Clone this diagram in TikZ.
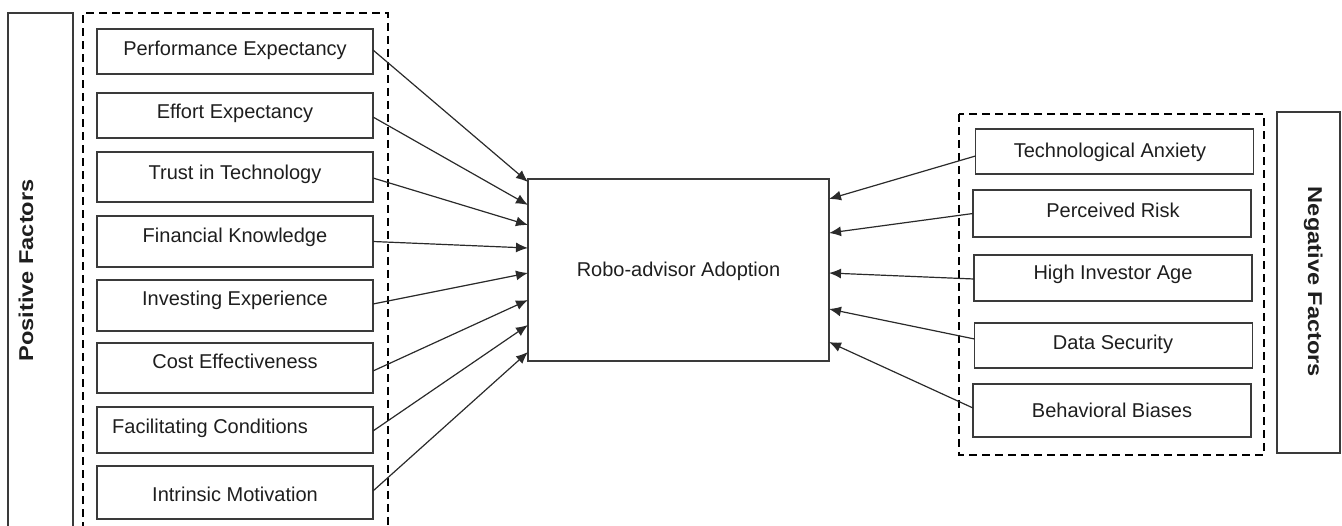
\documentclass[tikz,border=0pt]{standalone}
\usepackage{graphicx}
\usepackage{fontspec}
\setmainfont{Liberation Sans}
\usetikzlibrary{arrows.meta}
\definecolor{boxc}{HTML}{3A3A3A}
\definecolor{txtc}{HTML}{1E1E1E}
\definecolor{arrc}{HTML}{2A2A2A}
\tikzset{
  fbox/.style={draw=boxc, line width=1.3pt, inner sep=0pt, outer sep=0pt},
  lbox/.style={fbox, minimum width=276pt},
  rbox/.style={fbox, minimum width=278pt},
  txt/.style={anchor=base, inner sep=0pt, text=txtc, font=\fontsize{20}{24}\selectfont},
  side/.style={anchor=base, inner sep=0pt, text=txtc, font=\fontsize{20}{24}\selectfont\bfseries},
  grp/.style={draw=black, line width=2.2pt, dash pattern=on 8pt off 5pt},
  sidebox/.style={draw=boxc, line width=1.3pt},
  conn/.style={draw=arrc, line width=1.2pt, -{Latex[length=12pt,width=10pt]}}
}
\begin{document}
\begin{tikzpicture}[x=1pt,y=-1pt]
\useasboundingbox (0,0) rectangle (1342,526);
% side label boxes and group frames
\draw[sidebox] (8,530) -- (8,13) -- (73,13) -- (73,530);
\draw[grp] (83,530) -- (83,13) -- (388,13) -- (388,530);
\draw[sidebox] (1277,112) rectangle (1340,453);
\draw[grp] (959,114) rectangle (1264,455);
\node[side, rotate=90] (pos) at (33,270.5) {\scalebox{1.18}[1]{Positive Factors}};
\node[side, rotate=-90] (neg) at (1308,282) {\scalebox{1.18}[1]{Negative Factors}};
% positive factor boxes
\node[lbox, minimum height=45pt] (p1) at (235,51.5) {};
\node[lbox, minimum height=45pt] (p2) at (235,115.5) {};
\node[lbox, minimum height=50pt] (p3) at (235,177) {};
\node[lbox, minimum height=51pt] (p4) at (235,241.5) {};
\node[lbox, minimum height=51pt] (p5) at (235,305.5) {};
\node[lbox, minimum height=50pt] (p6) at (235,368) {};
\node[lbox, minimum height=46pt] (p7) at (235,430) {};
\node[lbox, minimum height=53pt] (p8) at (235,492.5) {};
\node[txt] (p1t) at (235,56) {Performance Expectancy};
\node[txt] (p2t) at (235,119) {Effort Expectancy};
\node[txt] (p3t) at (235,180) {Trust in Technology};
\node[txt] (p4t) at (235,243) {Financial Knowledge};
\node[txt] (p5t) at (235,306) {Investing Experience};
\node[txt] (p6t) at (235,369) {Cost Effectiveness};
\node[txt] (p7t) at (210,434) {Facilitating Conditions};
\node[txt] (p8t) at (235,501) {Intrinsic Motivation};
% central box
\node[fbox, minimum width=301pt, minimum height=182pt] (c) at (678.5,270) {};
\node[txt] (ct) at (678.5,277) {Robo-advisor Adoption};
% negative factor boxes
\node[rbox, minimum height=45pt] (n1) at (1114.5,151.5) {};
\node[rbox, minimum height=47pt] (n2) at (1112,213.5) {};
\node[rbox, minimum height=46pt] (n3) at (1113,278) {};
\node[rbox, minimum height=45pt] (n4) at (1113.5,345.5) {};
\node[rbox, minimum height=53pt] (n5) at (1112,410.5) {};
\node[txt] (n1t) at (1110,158) {Technological Anxiety};
\node[txt] (n2t) at (1113,218) {Perceived Risk};
\node[txt] (n3t) at (1113,280) {High Investor Age};
\node[txt] (n4t) at (1113,350) {Data Security};
\node[txt] (n5t) at (1112,418) {Behavioral Biases};
% connectors from positive factors
\draw[conn] ([yshift=1.5pt]p1.east) -- ([yshift=-3pt]c.north west);
\draw[conn] ([yshift=-1.5pt]p2.east) -- ([yshift=-26pt]c.north west);
\draw[conn] ([yshift=-1pt]p3.east) -- ([yshift=-46pt]c.north west);
\draw[conn] (p4.east) -- ([yshift=-69pt]c.north west);
\draw[conn] ([yshift=1.5pt]p5.east) -- ([yshift=-94pt]c.north west);
\draw[conn] ([yshift=-3pt]p6.east) -- ([yshift=-121pt]c.north west);
\draw[conn] ([yshift=-1pt]p7.east) -- ([yshift=-146pt]c.north west);
\draw[conn] ([yshift=1.5pt]p8.east) -- ([yshift=-173pt]c.north west);
% connectors from negative factors
\draw[conn] ([yshift=-4.5pt]n1.west) -- ([yshift=-20pt]c.north east);
\draw[conn] (n2.west) -- ([yshift=-54pt]c.north east);
\draw[conn] ([yshift=-1pt]n3.west) -- ([yshift=-94pt]c.north east);
\draw[conn] ([yshift=6.5pt]n4.west) -- ([yshift=-130pt]c.north east);
\draw[conn] ([yshift=2.5pt]n5.west) -- ([yshift=-163pt]c.north east);
\end{tikzpicture}
\end{document}
